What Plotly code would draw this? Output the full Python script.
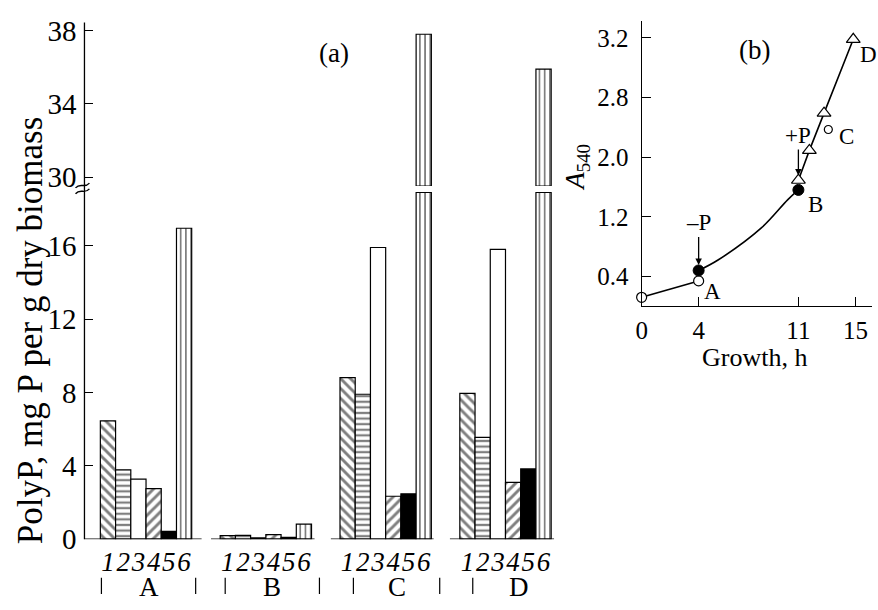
import plotly.graph_objects as go

# ---------------- data: panel (a) ----------------
groups = ["A", "B", "C", "D"]
bar_labels = ["1", "2", "3", "4", "5", "6"]
s1 = [6.45, 0.19, 8.81, 7.95]
s2 = [3.78, 0.21, 7.90, 5.55]
s3 = [3.27, 0.07, 15.9, 15.8]
s4 = [2.76, 0.25, 2.34, 3.10]
s5 = [0.42, 0.10, 2.47, 3.83]
s6 = [16.95, 0.82, 37.8, 35.9]
series = [s1, s2, s3, s4, s5, s6]
low_ticks = [0, 4, 8, 12, 16]
high_ticks = [30, 34, 38]

# ---------------- data: panel (b) ----------------
t_open = [0, 4]
a_open = [0.12, 0.34]
t_fill = [4, 11]
a_fill = [0.48, 1.56]
t_tri = [11, 11.77, 12.8, 14.85]
a_tri = [1.69, 2.09, 2.59, 3.58]
t_c = [13.1]
a_c = [2.37]
curve1_t = [0, 4]
curve1_a = [0.12, 0.34]
curve2_t = [4, 5.36, 8.4, 10.26, 11]
curve2_a = [0.48, 0.62, 1.05, 1.43, 1.56]
b_xticks = [0, 4, 11, 15]
b_yticks = [0.4, 1.2, 2.0, 2.8, 3.6]
b_yticktext = ["0.4", "1.2", "2.0", "2.8", "3.2"]

# ---------------- geometry helpers ----------------
W, H = 878, 610
FONT = "Liberation Serif"
G = 7.87          # group pitch in bar widths


def px(x):
    return x / W


def py(y):
    return 1 - y / H


pat = dict(fgcolor="black", bgcolor="white")
styles = [
    dict(color="white", pattern=dict(pat, shape="\\", size=7, solidity=0.42)),
    dict(color="white", pattern=dict(pat, shape="-", size=5.6, solidity=0.4)),
    dict(color="white"),
    dict(color="white", pattern=dict(pat, shape="/", size=7, solidity=0.42)),
    dict(color="black"),
    dict(color="white", pattern=dict(pat, shape="|", size=5.2, solidity=0.34)),
]

low_top = (553 - 192) / 19.06
high_range = [30 - (186 - 177) / 19.06, 30 + (177 - 16) / 19.06]

fig = go.Figure()

for k, vals in enumerate(series):
    xs = [g * G + k + 0.5 for g in range(len(groups))]
    mk = dict(styles[k])
    mk["line"] = dict(color="black", width=1.2)
    shown = [min(v, low_top - 0.04) for v in vals]
    fig.add_trace(go.Bar(x=xs, y=shown, width=1, marker=mk, xaxis="x", yaxis="y",
                         showlegend=False, name=bar_labels[k], customdata=vals))
    tall = [(x, v) for x, v in zip(xs, vals) if v > high_range[0]]
    if tall:
        fig.add_trace(go.Bar(x=[t[0] for t in tall], y=[t[1] - high_range[0] for t in tall],
                             base=high_range[0], width=1, marker=mk, xaxis="x", yaxis="y2",
                             showlegend=False, name=bar_labels[k]))

# panel (b) traces
line_style = dict(color="black", width=1.6)
fig.add_trace(go.Scatter(x=curve1_t, y=curve1_a, mode="lines", line=dict(line_style, shape="spline"),
                         xaxis="x2", yaxis="y3", showlegend=False, cliponaxis=False))
fig.add_trace(go.Scatter(x=curve2_t, y=curve2_a, mode="lines", line=dict(line_style, shape="spline"),
                         xaxis="x2", yaxis="y3", showlegend=False, cliponaxis=False))
fig.add_trace(go.Scatter(x=t_tri, y=a_tri, mode="lines+markers", line=line_style,
                         marker=dict(symbol="triangle-up", size=12, color="white",
                                     line=dict(color="black", width=1.2)),
                         xaxis="x2", yaxis="y3", showlegend=False, cliponaxis=False))
fig.add_trace(go.Scatter(x=t_open, y=a_open, mode="markers",
                         marker=dict(symbol="circle", size=10, color="white",
                                     line=dict(color="black", width=1.2)),
                         xaxis="x2", yaxis="y3", showlegend=False, cliponaxis=False))
fig.add_trace(go.Scatter(x=t_fill, y=a_fill, mode="markers",
                         marker=dict(symbol="circle", size=11, color="black",
                                     line=dict(color="black", width=1)),
                         xaxis="x2", yaxis="y3", showlegend=False, cliponaxis=False))
fig.add_trace(go.Scatter(x=t_c, y=a_c, mode="markers",
                         marker=dict(symbol="circle", size=8, color="white",
                                     line=dict(color="black", width=1.2)),
                         xaxis="x2", yaxis="y3", showlegend=False, cliponaxis=False))

# ---------------- axes ----------------
bw = 15.33
x0, x1 = 79, 552
xr = [(x0 - 95) / bw, (x1 - 95) / bw]
centers = [g * G + k + 0.5 for g in range(len(groups)) for k in range(len(bar_labels))]
center_text = [bar_labels[k] for g in range(len(groups)) for k in range(len(bar_labels))]
edges = [v for g in range(len(groups)) for v in (g * G, g * G + len(bar_labels))]

tickfont_a = dict(family=FONT, size=29, color="black")
tickfont_b = dict(family=FONT, size=25, color="black")

fig.update_layout(
    width=W, height=H, autosize=False,
    margin=dict(l=0, r=0, t=0, b=0),
    paper_bgcolor="white", plot_bgcolor="white",
    barmode="overlay",
    font=dict(family=FONT, color="black"),
    xaxis=dict(domain=[px(x0), px(x1)], range=xr, anchor="y", showgrid=False, zeroline=False,
               showline=False, ticks="", tickvals=centers, ticktext=center_text, tickangle=0,
               tickfont=dict(family=FONT, size=27, color="black", style="italic"),
               ticklabelstandoff=4),
    xaxis3=dict(overlaying="x", range=xr, anchor="y", side="bottom", showgrid=False, zeroline=False,
                showline=False, ticks="outside", ticklen=10, tickwidth=1.2, tickcolor="black",
                tickvals=edges, showticklabels=False),
    yaxis=dict(domain=[py(553), py(192)], range=[0, low_top], anchor="x",
               showgrid=False, zeroline=False, showline=False, ticks="inside", ticklen=9,
               tickwidth=1.2, tickcolor="black", tickvals=low_ticks, tickfont=tickfont_a,
               ticklabelstandoff=7),
    yaxis2=dict(domain=[py(186), py(16)], range=high_range,
                anchor="x", showgrid=False, zeroline=False, showline=False, ticks="inside", ticklen=9,
                tickwidth=1.2, tickcolor="black", tickvals=high_ticks, tickfont=tickfont_a,
                ticklabelstandoff=7),
    xaxis2=dict(domain=[px(640), px(871.7)], range=[0, 231.7 / 14.35], anchor="y3",
                showgrid=False, zeroline=False, showline=True, linecolor="black", linewidth=1.3,
                ticks="inside", ticklen=9, tickwidth=1.2, tickcolor="black", tickvals=b_xticks,
                tickfont=tickfont_b, ticklabelstandoff=2),
    yaxis3=dict(domain=[py(311), py(15)], range=[0, 296 / 77.5], anchor="x2",
                showgrid=False, zeroline=False, showline=True, linecolor="black", linewidth=1.3,
                ticks="inside", ticklen=9, tickwidth=1.2, tickcolor="black", tickvals=b_yticks,
                ticktext=b_yticktext, tickfont=tickfont_b, ticklabelstandoff=7),
)

# ---------------- decorations ----------------
shapes = []
shapes.append(dict(type="line", xref="paper", yref="paper", x0=px(79), x1=px(79), y0=py(553), y1=py(16),
                   line=dict(color="black", width=1.3)))


def tilde(xa, ya, xb, yb):
    c1 = (xa + 5, ya - 6)
    c2 = (xb - 5, yb + 6)
    return "M {},{} C {},{} {},{} {},{}".format(px(xa), py(ya), px(c1[0]), py(c1[1]),
                                                  px(c2[0]), py(c2[1]), px(xb), py(yb))


# axis-break sign on the y axis of panel (a)
for dy in (0, 6):
    shapes.append(dict(type="path", xref="paper", yref="paper",
                       path=tilde(70, 188 + dy, 84, 183 + dy),
                       line=dict(color="black", width=1.4)))

seg_left = [xr[0], -0.6, -0.6, -0.65]
seg_right = [6.65, 6.2, 6.15, 6.2]
for g in range(len(groups)):
    shapes.append(dict(type="line", xref="x", yref="y", x0=g * G + seg_left[g], x1=g * G + seg_right[g],
                       y0=0, y1=0, line=dict(color="black", width=1.3)))
sep_left = [0.07, 0.33, 0.88, 0.85]
sep_right = [6.26, 6.52, 6.55, 6.92]


def A(**kw):
    d = dict(showarrow=False, xanchor="center", yanchor="middle")
    d.update(kw)
    return d


ann = []
for g, name in enumerate(groups):
    for s in (sep_left[g], sep_right[g]):
        shapes.append(dict(type="line", xref="x", yref="paper", x0=g * G + s, x1=g * G + s,
                           y0=py(593), y1=py(610), line=dict(color="black", width=1.2)))
    ann.append(A(x=g * G + (sep_left[g] + sep_right[g]) / 2, xref="x", y=py(603), yref="paper",
                 text=name, font=dict(family=FONT, size=27, color="black")))

ann += [
    A(x=px(24), y=py(336), xref="paper", yref="paper", text="PolyP, mg P per g dry biomass",
      textangle=-90, font=dict(family=FONT, size=35, color="black")),
    A(x=px(330), y=py(48), xref="paper", yref="paper", text="(a)",
      font=dict(family=FONT, size=27, color="black")),
    A(x=px(754), y=py(45), xref="paper", yref="paper", text="(b)",
      font=dict(family=FONT, size=27, color="black")),
    A(x=px(754), y=py(364), xref="paper", yref="paper", text="Growth, h",
      font=dict(family=FONT, size=26, color="black")),
    A(x=px(575), y=py(167), xref="paper", yref="paper", text="<i>A</i><sub>540</sub>",
      textangle=-90, font=dict(family=FONT, size=27, color="black")),
    A(x=5.0, y=0.2, xref="x2", yref="y3", text="A", font=dict(family=FONT, size=23, color="black")),
    A(x=12.2, y=1.37, xref="x2", yref="y3", text="B", font=dict(family=FONT, size=23, color="black")),
    A(x=14.4, y=2.27, xref="x2", yref="y3", text="C", font=dict(family=FONT, size=23, color="black")),
    A(x=15.95, y=3.37, xref="x2", yref="y3", text="D", font=dict(family=FONT, size=23, color="black")),
]
ann.append(dict(x=4, y=(311 - 268) / 77.5, xref="x2", yref="y3", text="–P", showarrow=True,
                ax=0, ay=-42, arrowhead=2, arrowsize=1, arrowwidth=1.3, arrowcolor="black",
                font=dict(family=FONT, size=23, color="black")))
ann.append(dict(x=11, y=(311 - 175) / 77.5, xref="x2", yref="y3", text="+P", showarrow=True,
                ax=0, ay=-40, arrowhead=2, arrowsize=1, arrowwidth=1.3, arrowcolor="black",
                font=dict(family=FONT, size=23, color="black")))

fig.update_layout(shapes=shapes, annotations=ann)
fig.write_html("out.html", config={"displayModeBar": False},
               post_script="document.body.style.margin='0px';")
